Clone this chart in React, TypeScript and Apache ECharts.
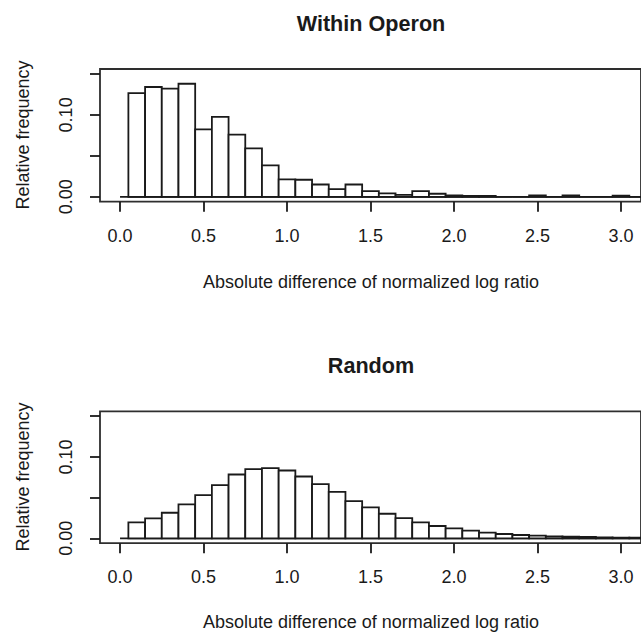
import React, { useEffect, useRef } from "react";
import * as echarts from "echarts";

// Histogram bin centres (bin width 0.1)
const binMids = [
  0.1, 0.2, 0.3, 0.4, 0.5, 0.6, 0.7, 0.8, 0.9, 1.0,
  1.1, 1.2, 1.3, 1.4, 1.5, 1.6, 1.7, 1.8, 1.9, 2.0,
  2.1, 2.2, 2.3, 2.4, 2.5, 2.6, 2.7, 2.8, 2.9, 3.0, 3.1,
];
const binWidth = 0.1;

// Relative frequencies, "Within Operon"
const withinOperon = [
  0.1265, 0.134, 0.132, 0.138, 0.0824, 0.0976, 0.0759, 0.0592, 0.0384, 0.0212,
  0.0208, 0.015, 0.0094, 0.015, 0.0069, 0.0041, 0.0024, 0.0069, 0.0037, 0.0018,
  0.0012, 0.0012, 0, 0, 0.0018, 0, 0.0018, 0, 0, 0.0015, 0,
];

// Relative frequencies, "Random"
const randomPairs = [
  0.0196, 0.0245, 0.0314, 0.0416, 0.053, 0.0653, 0.0784, 0.0849, 0.0861, 0.0833,
  0.0759, 0.0665, 0.0571, 0.0457, 0.038, 0.0302, 0.0249, 0.0196, 0.0151, 0.0122,
  0.0094, 0.0069, 0.0053, 0.0041, 0.0033, 0.0024, 0.002, 0.0016, 0.0012, 0.0008, 0.0008,
];

const xTicks = [0, 0.5, 1.0, 1.5, 2.0, 2.5, 3.0];
const yTicks = [0, 0.05, 0.1, 0.15];
const yLabels = [0, 0.1];
const xMin = -0.12;
const xMax = 3.12;
const yMin = -0.006;
const yMax = 0.156;
const baselineStart = 0;

const titles = ["Within Operon", "Random"];
const xTitle = "Absolute difference of normalized log ratio";
const yTitle = "Relative frequency";

const FONT = '"Liberation Sans", Arial, Helvetica, sans-serif';
const INK = "#1a1a1a";
const LW = 1.8;

export default function App() {
  const ref = useRef<HTMLDivElement>(null);

  useEffect(() => {
    if (!ref.current) return;
    const chart = echarts.init(ref.current, null, { renderer: "svg" });

    const grids = [
      { left: 100, top: 69, width: 542, height: 132.7 },
      { left: 100, top: 411.3, width: 542, height: 131.9 },
    ];

    const mkX = (i: number) => ({
      type: "value",
      gridIndex: i,
      position: "bottom",
      min: xMin,
      max: xMax,
      axisLine: { show: false, onZero: false },
      splitLine: { show: false },
      axisTick: {
        show: true,
        inside: false,
        length: 10,
        customValues: xTicks,
        lineStyle: { color: INK, width: LW },
      },
      axisLabel: {
        customValues: xTicks,
        margin: 25,
        fontSize: 18,
        fontFamily: FONT,
        color: INK,
        formatter: (v: number) => v.toFixed(1),
      },
    });
    const mkY = (i: number) => ({
      type: "value",
      gridIndex: i,
      position: "left",
      min: yMin,
      max: yMax,
      axisLine: { show: false, onZero: false },
      splitLine: { show: false },
      axisTick: {
        show: true,
        inside: false,
        length: 10,
        customValues: yTicks,
        lineStyle: { color: INK, width: LW },
      },
      axisLabel: {
        customValues: yLabels,
        rotate: 90,
        margin: 25,
        fontSize: 18,
        fontFamily: FONT,
        color: INK,
        formatter: (v: number) => v.toFixed(2),
      },
    });

    const mkHist = (i: number, vals: number[]) => ({
      type: "custom",
      xAxisIndex: i,
      yAxisIndex: i,
      clip: true,
      data: binMids.map((m, k) => [m - binWidth / 2, m + binWidth / 2, vals[k]]),
      renderItem: (params: any, api: any) => {
        const x0 = api.value(0);
        const x1 = api.value(1);
        const y = api.value(2);
        const p0 = api.coord([x0, y]);
        const p1 = api.coord([x1, 0]);
        if (y <= 0) {
          return {
            type: "line",
            shape: { x1: p0[0], y1: p1[1], x2: p1[0], y2: p1[1] },
            style: { stroke: INK, lineWidth: LW },
          };
        }
        return {
          type: "polygon",
          shape: {
            points: [
              [p0[0], p1[1]],
              [p0[0], p0[1]],
              [p1[0], p0[1]],
              [p1[0], p1[1]],
            ],
          },
          style: { fill: "#ffffff", stroke: INK, lineWidth: LW },
        };
      },
    });

    const mkBase = (i: number) => ({
      type: "line",
      xAxisIndex: i,
      yAxisIndex: i,
      symbol: "none",
      silent: true,
      z: 1,
      lineStyle: { color: INK, width: LW },
      data: [
        [baselineStart, 0],
        [xMax, 0],
      ],
    });

    const centerX = 371;
    const txt = (text: string, x: number, y: number, size: number, bold = false, rot = 0) => ({
      type: "text",
      x,
      y,
      rotation: rot,
      style: {
        text,
        x: 0,
        y: 0,
        textAlign: "center",
        textVerticalAlign: "middle",
        align: "center",
        verticalAlign: "middle",
        font: `${bold ? "bold " : ""}${size}px ${FONT}`,
        fill: INK,
      },
    });

    chart.setOption({
      animation: false,
      backgroundColor: "#ffffff",
      grid: grids.map((g) => ({
        ...g,
        show: true,
        borderColor: "#2e2e2e",
        borderWidth: LW,
        backgroundColor: "transparent",
      })),
      xAxis: [mkX(0), mkX(1)],
      yAxis: [mkY(0), mkY(1)],
      series: [mkBase(0), mkHist(0, withinOperon), mkBase(1), mkHist(1, randomPairs)],
      graphic: [
        txt(titles[0], centerX, 23, 21.6, true),
        txt(titles[1], centerX, 365, 21.6, true),
        txt(xTitle, centerX, 282, 18),
        txt(xTitle, centerX, 622, 18),
        txt(yTitle, 23, 135, 18, false, Math.PI / 2),
        txt(yTitle, 23, 477, 18, false, Math.PI / 2),
      ],
    });

    return () => chart.dispose();
  }, []);

  return (
    <div
      ref={ref}
      style={{ position: "fixed", left: 0, top: 0, width: 641, height: 632, background: "#fff" }}
    />
  );
}
